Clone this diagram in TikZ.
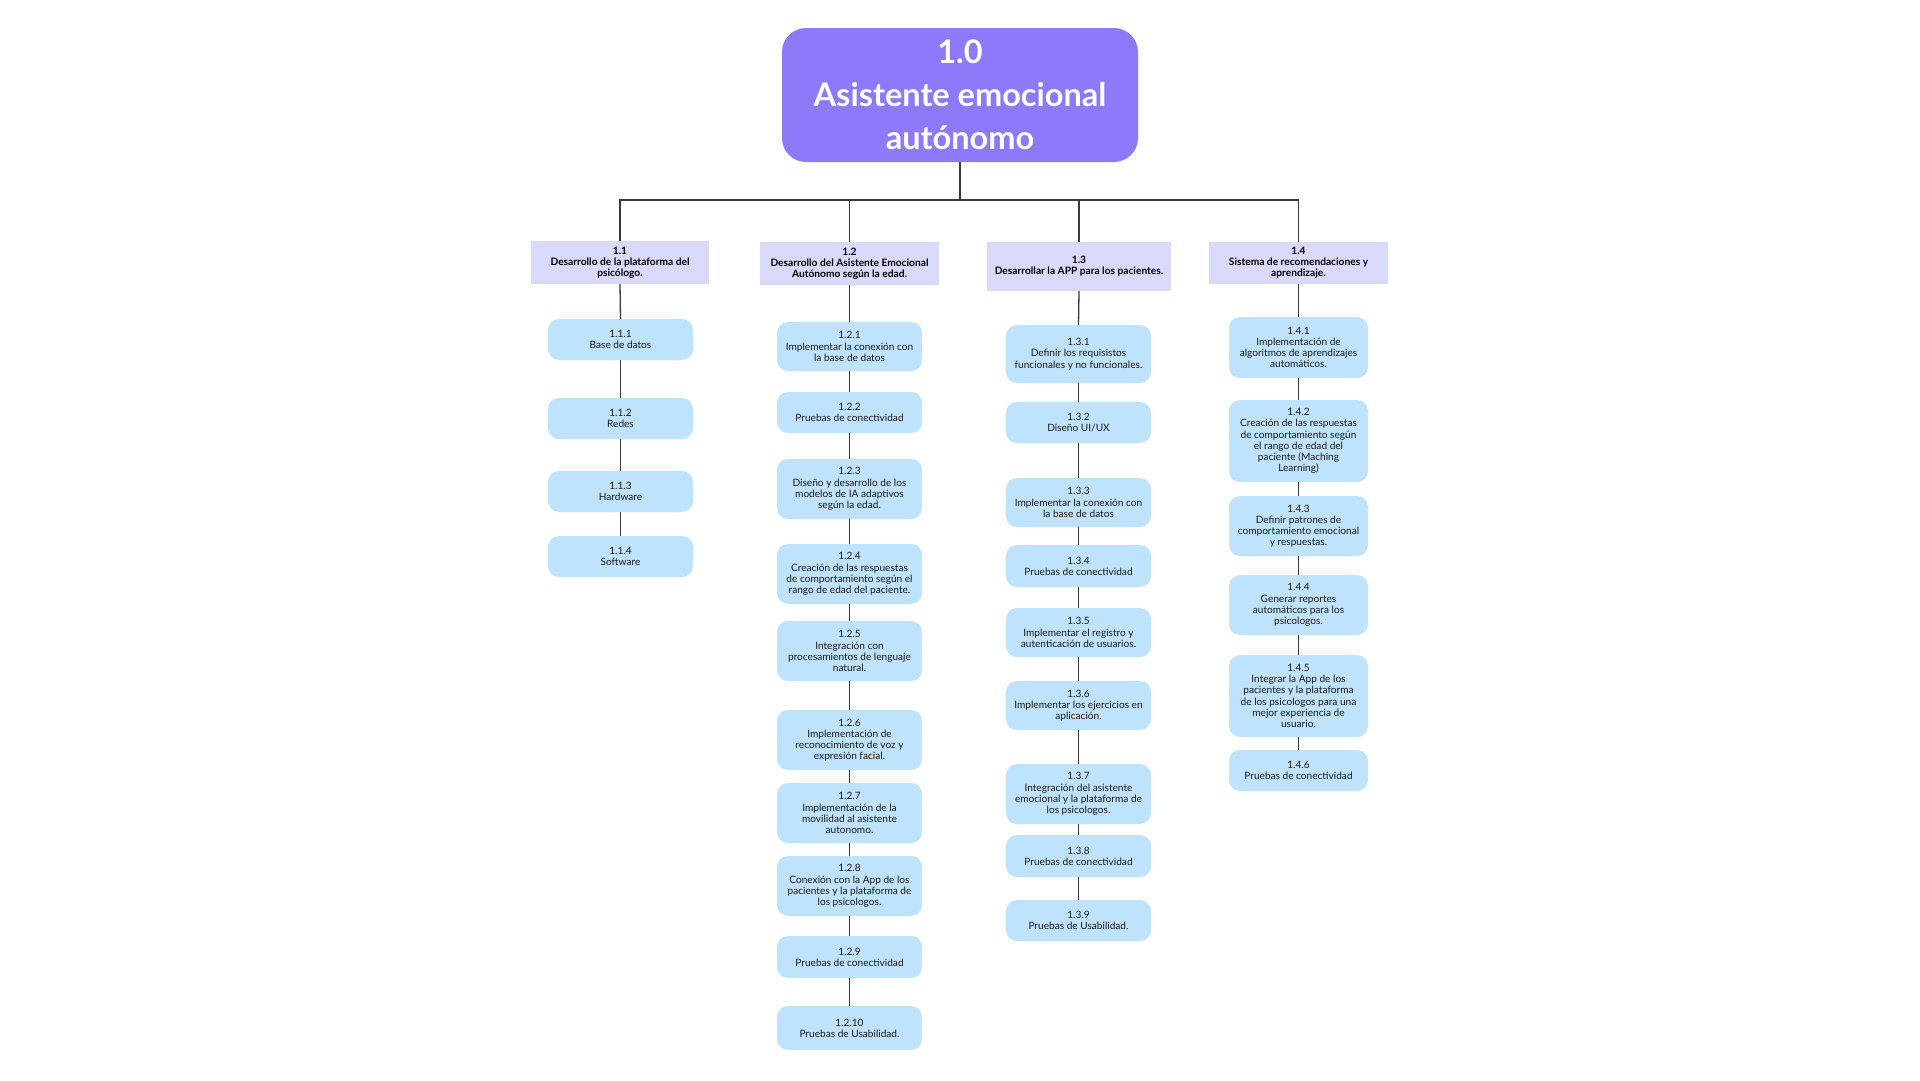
\documentclass[tikz,border=0pt]{standalone}
\usepackage{fontspec}
\setmainfont{Lato}
\definecolor{rootc}{HTML}{8E7AF8}
\definecolor{midc}{HTML}{D9D9FC}
\definecolor{leafc}{HTML}{C0E3FD}
\definecolor{linec}{HTML}{3A3A3A}
\begin{document}
\begin{tikzpicture}[x=1pt,y=-1pt,
  rootbox/.style={fill=rootc, rounded corners=24pt, minimum width=356pt, minimum height=134pt, inner sep=0pt, align=center, text=white, font=\fontsize{32.5}{43}\selectfont\bfseries},
  midbox/.style={fill=midc, minimum width=179pt, inner sep=0pt, align=center, text=black, font=\fontsize{10.2}{11.2}\selectfont\bfseries},
  leaf/.style={fill=leafc, rounded corners=11pt, minimum width=145pt, inner sep=0pt, align=center, text=black!90, font=\fontsize{10.1}{11.2}\selectfont},
  conn/.style={draw=linec, line width=1.3pt}
]
\fill[white] (0,0) rectangle (1920,1080);
\useasboundingbox (0,0) rectangle (1920,1080);

% root
\node[rootbox] (root) at (960,95) {1.0\\Asistente emocional\\autónomo};

% level 2
\node[midbox, minimum width=178pt, minimum height=43pt] (n11) at (620,262.5) {1.1\\Desarrollo de la plataforma del\\psicólogo.};
\node[midbox, minimum width=179pt, minimum height=43pt] (n12) at (849.5,263.5) {1.2\\Desarrollo del Asistente Emocional\\Autónomo según la edad.};
\node[midbox, minimum width=184pt, minimum height=49pt] (n13) at (1079,266.5) {1.3\\Desarrollar la APP para los pacientes.};
\node[midbox, minimum width=179pt, minimum height=42pt] (n14) at (1298.5,263) {1.4\\Sistema de recomendaciones y\\aprendizaje.};

% column 1.1
\node[leaf, minimum height=41pt] (n111) at (620.5,339.5) {1.1.1\\Base de datos};
\node[leaf, minimum height=41pt] (n112) at (620.5,418.5) {1.1.2\\Redes};
\node[leaf, minimum height=41pt] (n113) at (620.5,491.5) {1.1.3\\Hardware};
\node[leaf, minimum height=41pt] (n114) at (620.5,556.5) {1.1.4\\Software};

% column 1.2
\node[leaf, minimum height=49pt] (n121) at (849.5,346.5) {1.2.1\\Implementar la conexión con\\la base de datos};
\node[leaf, minimum height=41pt] (n122) at (849.5,412.5) {1.2.2\\Pruebas de conectividad};
\node[leaf, minimum height=60pt] (n123) at (849.5,489) {1.2.3\\Diseño y desarrollo de los\\modelos de IA adaptivos\\según la edad.};
\node[leaf, minimum height=60pt] (n124) at (849.5,574) {1.2.4\\Creación de las respuestas\\de comportamiento según el\\rango de edad del paciente.};
\node[leaf, minimum height=60pt] (n125) at (849.5,651) {1.2.5\\Integración con\\procesamientos de lenguaje\\natural.};
\node[leaf, minimum height=60pt] (n126) at (849.5,740) {1.2.6\\Implementación de\\reconocimiento de voz y\\expresión facial.};
\node[leaf, minimum height=60pt] (n127) at (849.5,813) {1.2.7\\Implementación de la\\movilidad al asistente\\autonomo.};
\node[leaf, minimum height=60pt] (n128) at (849.5,886) {1.2.8\\Conexión con la App de los\\pacientes y la plataforma de\\los psicologos.};
\node[leaf, minimum height=42pt] (n129) at (849.5,957) {1.2.9\\Pruebas de conectividad};
\node[leaf, minimum height=44pt] (n1210) at (849.5,1028) {1.2.10\\Pruebas de Usabilidad.};

% column 1.3
\node[leaf, minimum height=58pt] (n131) at (1078.5,354) {1.3.1\\Definir los requisistos\\funcionales y no funcionales.};
\node[leaf, minimum height=41pt] (n132) at (1078.5,422.5) {1.3.2\\Diseño UI/UX};
\node[leaf, minimum height=49pt] (n133) at (1078.5,502.5) {1.3.3\\Implementar la conexión con\\la base de datos};
\node[leaf, minimum height=42pt] (n134) at (1078.5,566) {1.3.4\\Pruebas de conectividad};
\node[leaf, minimum height=49pt] (n135) at (1078.5,632.5) {1.3.5\\Implementar el registro y\\autenticación de usuarios.};
\node[leaf, minimum height=49pt] (n136) at (1078.5,705.5) {1.3.6\\Implementar los ejercicios en\\aplicación.};
\node[leaf, minimum height=60pt] (n137) at (1078.5,794) {1.3.7\\Integración del asistente\\emocional y la plataforma de\\los psicologos.};
\node[leaf, minimum height=42pt] (n138) at (1078.5,856) {1.3.8\\Pruebas de conectividad};
\node[leaf, minimum height=41pt] (n139) at (1078.5,920.5) {1.3.9\\Pruebas de Usabilidad.};

% column 1.4
\node[leaf, minimum width=139pt, minimum height=61pt] (n141) at (1298.5,347.5) {1.4.1\\Implementación de\\algoritmos de aprendizajes\\automáticos.};
\node[leaf, minimum width=139pt, minimum height=82pt] (n142) at (1298.5,441) {1.4.2\\Creación de las respuestas\\de comportamiento según\\el rango de edad del\\paciente (Maching\\Learning)};
\node[leaf, minimum width=139pt, minimum height=60pt] (n143) at (1298.5,526) {1.4.3\\Definir patrones de\\comportamiento emocional\\y respuestas.};
\node[leaf, minimum width=139pt, minimum height=60pt] (n144) at (1298.5,605) {1.4.4\\Generar reportes\\automáticos para los\\psicologos.};
\node[leaf, minimum width=139pt, minimum height=82pt] (n145) at (1298.5,696) {1.4.5\\Integrar la App de los\\pacientes y la plataforma\\de los psicologos para una\\mejor experiencia de\\usuario.};
\node[leaf, minimum width=139pt, minimum height=41pt] (n146) at (1298.5,770.5) {1.4.6\\Pruebas de conectividad};

% connectors
\coordinate (bus) at (960,200);
\draw[conn] (root.south) -- (bus);
\draw[conn] (n11.north) -- (n11.north |- bus) -- (n14.north |- bus) -- (n14.north);
\draw[conn] (n12.north) -- (n12.north |- bus);
\draw[conn] (n13.north) -- (n13.north |- bus);

\foreach \a/\b in {n11/n111, n111/n112, n112/n113, n113/n114,
  n12/n121, n121/n122, n122/n123, n123/n124, n124/n125, n125/n126, n126/n127, n127/n128, n128/n129, n129/n1210,
  n13/n131, n131/n132, n132/n133, n133/n134, n134/n135, n135/n136, n136/n137, n137/n138, n138/n139,
  n14/n141, n141/n142, n142/n143, n143/n144, n144/n145, n145/n146}
  \draw[conn] (\a.south) -- (\b.north);
\end{tikzpicture}
\end{document}
